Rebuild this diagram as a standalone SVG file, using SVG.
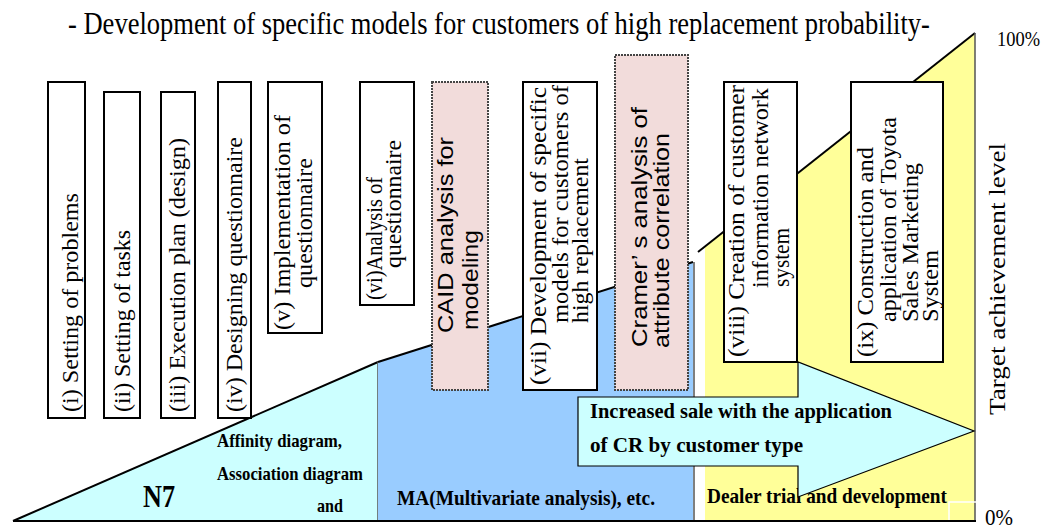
<svg xmlns="http://www.w3.org/2000/svg" width="1046" height="529" viewBox="0 0 1046 529">
  <style>
    .serif { font-family: "Liberation Serif", "Times New Roman", serif; fill: #000; }
    .sans { font-family: "Liberation Sans", Arial, sans-serif; fill: #000; }
    .box { fill: #ffffff; stroke: #000; stroke-width: 2; }
    .tool { fill: #f2dcdb; stroke: #444; stroke-width: 2; stroke-dasharray: 2 1; }
    .vt { font-size: 23px; }
    .vs { font-size: 22px; }
    .lbl { font-weight: bold; }
    .edge { fill: none; stroke: #000; stroke-width: 2; }
    .side { fill: none; stroke: #555; stroke-width: 1.5; }
  </style>

  <rect width="1046" height="529" fill="#ffffff"/>

  <!-- Title (narrowed serif) -->
  <text class="serif" transform="translate(68,34) scale(0.85,1)" font-size="31" textLength="1014" lengthAdjust="spacingAndGlyphs">- Development of specific models for customers of high replacement probability-</text>

  <!-- Phase areas -->
  <g id="phase-n7">
    <polygon points="13,521 378,362 378,521" fill="#ccffff"/>
    <line x1="13" y1="521" x2="378" y2="362" class="edge"/>
    <line x1="378" y1="362" x2="378" y2="521" class="side"/>
    <text class="serif lbl" x="143" y="507" font-size="32" textLength="32" lengthAdjust="spacingAndGlyphs">N7</text>
    <text class="serif lbl" x="217" y="447" font-size="19" textLength="125" lengthAdjust="spacingAndGlyphs">Affinity diagram,</text>
    <text class="serif lbl" x="217" y="480" font-size="19" textLength="146" lengthAdjust="spacingAndGlyphs">Association diagram</text>
    <text class="serif lbl" x="317" y="512" font-size="19" textLength="26" lengthAdjust="spacingAndGlyphs">and</text>
  </g>

  <g id="phase-ma">
    <polygon points="378,362 693,262 693,521 378,521" fill="#99ccff"/>
    <line x1="378" y1="362" x2="693" y2="262" class="edge"/>
    <line x1="694" y1="262" x2="694" y2="521" class="side"/>
    <text class="serif lbl" x="397" y="505" font-size="21" textLength="258" lengthAdjust="spacingAndGlyphs">MA(Multivariate analysis), etc.</text>
  </g>

  <g id="phase-dealer">
    <polygon points="705,247 975,33 975,521 705,521" fill="#ffff99"/>
    <line x1="698" y1="252" x2="975" y2="33" class="edge"/>
    <line x1="975" y1="33" x2="975" y2="521" class="side"/>
    <text class="serif lbl" x="707" y="503" font-size="21" textLength="240" lengthAdjust="spacingAndGlyphs">Dealer trial and development</text>
    <path d="M949,521 V502 H976" fill="none" stroke="#ffffff" stroke-width="1.5"/>
  </g>

  <!-- Base line -->
  <line x1="13" y1="521" x2="976" y2="521" stroke="#000" stroke-width="2"/>

  <!-- Step boxes -->
  <g id="step-1">
    <rect class="box" x="48" y="82" width="37" height="336"/>
    <text class="serif vt" transform="translate(78,412) rotate(-90)" textLength="219" lengthAdjust="spacingAndGlyphs">(i) Setting of problems</text>
  </g>
  <g id="step-2">
    <rect class="box" x="104" y="92" width="36" height="326"/>
    <text class="serif vt" transform="translate(130,412) rotate(-90)" textLength="182" lengthAdjust="spacingAndGlyphs">(ii) Setting of tasks</text>
  </g>
  <g id="step-3">
    <rect class="box" x="161" y="92" width="34" height="326"/>
    <text class="serif vt" transform="translate(185,412) rotate(-90)" textLength="274" lengthAdjust="spacingAndGlyphs">(iii) Execution  plan (design)</text>
  </g>
  <g id="step-4">
    <rect class="box" x="218" y="82" width="33" height="336"/>
    <text class="serif vt" transform="translate(242,412) rotate(-90)" textLength="275" lengthAdjust="spacingAndGlyphs">(iv) Designing questionnaire</text>
  </g>
  <g id="step-5">
    <rect class="box" x="268" y="82" width="54" height="251"/>
    <text class="serif vt" transform="translate(290,330) rotate(-90)" textLength="215" lengthAdjust="spacingAndGlyphs">(v) Implementation of</text>
    <text class="serif vt" transform="translate(312,288) rotate(-90)" textLength="130" lengthAdjust="spacingAndGlyphs">questionnaire</text>
  </g>
  <g id="step-6">
    <rect class="box" x="360" y="82" width="54" height="223"/>
    <text class="serif vt" transform="translate(382,300) rotate(-90)" textLength="123" lengthAdjust="spacingAndGlyphs">(vi)Analysis of</text>
    <text class="serif vt" transform="translate(401,268) rotate(-90)" textLength="128" lengthAdjust="spacingAndGlyphs">questionnaire</text>
  </g>
  <g id="tool-caid">
    <rect class="tool" x="432" y="82" width="56" height="308"/>
    <text class="sans vs" transform="translate(453,333) rotate(-90)" textLength="196" lengthAdjust="spacingAndGlyphs">CAID analysis for</text>
    <text class="sans vs" transform="translate(478,330) rotate(-90)" textLength="100" lengthAdjust="spacingAndGlyphs">modeling</text>
  </g>
  <g id="step-7">
    <rect class="box" x="523" y="82" width="74" height="308"/>
    <text class="serif vt" transform="translate(546,385) rotate(-90)" textLength="298" lengthAdjust="spacingAndGlyphs">(vii) Development of  specific</text>
    <text class="serif vt" transform="translate(568,323) rotate(-90)" textLength="238" lengthAdjust="spacingAndGlyphs">models for customers of</text>
    <text class="serif vt" transform="translate(588,323) rotate(-90)" textLength="165" lengthAdjust="spacingAndGlyphs">high replacement</text>
  </g>
  <g id="tool-cramer">
    <rect class="tool" x="615" y="55" width="73" height="335"/>
    <text class="sans vs" transform="translate(647,347) rotate(-90)" textLength="240" lengthAdjust="spacingAndGlyphs">Cramer’ s analysis of</text>
    <text class="sans vs" transform="translate(669,348) rotate(-90)" textLength="215" lengthAdjust="spacingAndGlyphs">attribute correlation</text>
  </g>
  <g id="step-8">
    <rect class="box" x="724" y="82" width="73" height="280"/>
    <text class="serif vt" transform="translate(744,357) rotate(-90)" textLength="272" lengthAdjust="spacingAndGlyphs">(viii) Creation of customer</text>
    <text class="serif vt" transform="translate(768,288) rotate(-90)" textLength="200" lengthAdjust="spacingAndGlyphs">information network</text>
    <text class="serif vt" transform="translate(789,287) rotate(-90)" textLength="59" lengthAdjust="spacingAndGlyphs">system</text>
  </g>
  <g id="step-9">
    <rect class="box" x="851" y="82" width="92" height="280"/>
    <text class="serif vt" transform="translate(873,357) rotate(-90)" textLength="210" lengthAdjust="spacingAndGlyphs">(ix) Construction and</text>
    <text class="serif vt" transform="translate(896,322) rotate(-90)" textLength="205" lengthAdjust="spacingAndGlyphs">application of Toyota</text>
    <text class="serif vt" transform="translate(918,322) rotate(-90)" textLength="159" lengthAdjust="spacingAndGlyphs">Sales Marketing</text>
    <text class="serif vt" transform="translate(938,322) rotate(-90)" textLength="72" lengthAdjust="spacingAndGlyphs">System</text>
  </g>

  <!-- Result arrow -->
  <g id="result-arrow">
    <polygon points="578,397 798,397 798,362 974,431 798,497 798,466 578,466" fill="#ccffff" stroke="#000" stroke-width="1.2"/>
    <text class="serif lbl" x="590" y="418" font-size="21" textLength="302" lengthAdjust="spacingAndGlyphs">Increased sale with the application</text>
    <text class="serif lbl" x="590" y="452" font-size="21" textLength="213" lengthAdjust="spacingAndGlyphs">of CR by customer type</text>
  </g>

  <!-- Scale -->
  <g id="scale">
    <text class="serif" x="997" y="46" font-size="21" textLength="43" lengthAdjust="spacingAndGlyphs">100%</text>
    <text class="serif" x="985" y="525" font-size="24" textLength="28" lengthAdjust="spacingAndGlyphs">0%</text>
    <text class="serif" transform="translate(1005,415) rotate(-90)" font-size="23" textLength="272" lengthAdjust="spacingAndGlyphs">Target achievement level</text>
  </g>
</svg>
